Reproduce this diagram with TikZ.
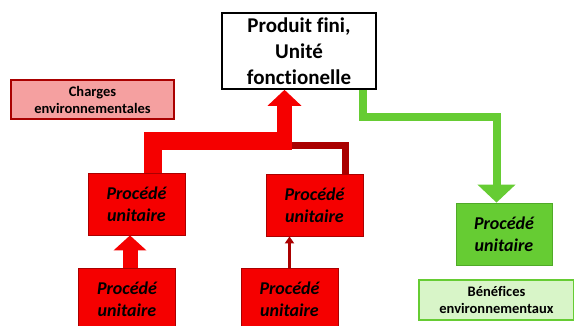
\documentclass[tikz,border=0pt]{standalone}
\usepackage{fontspec}
\setmainfont{Carlito}[Ligatures=NoCommon]
\usetikzlibrary{arrows.meta,calc}

\definecolor{rouge}{RGB}{245,0,0}
\definecolor{rougefonce}{RGB}{170,0,0}
\definecolor{rose}{RGB}{245,160,160}
\definecolor{vert}{RGB}{102,204,51}
\definecolor{vertfonce}{RGB}{80,170,40}
\definecolor{vertclair}{RGB}{216,245,200}

\begin{document}
\begin{tikzpicture}[
  x=1pt, y=-1pt,
  final/.style={draw, line width=1.6pt, fill=white, minimum width=154pt, minimum height=76pt,
    align=center, inner sep=0pt, font=\fontsize{21}{26}\selectfont\bfseries},
  procede/.style={draw=rougefonce, line width=0.8pt, fill=rouge, minimum width=97pt, minimum height=62pt,
    align=center, inner sep=0pt, font=\fontsize{18}{22}\selectfont\bfseries\itshape},
  legende/.style={line width=1.2pt, minimum height=39pt, align=center, inner sep=0pt,
    font=\fontsize{14.5}{17}\selectfont\bfseries},
  redflow/.style={draw=rouge},
  greenflow/.style={draw=vert}
]
  \clip (0,0) rectangle (574,326);

  \node[final] (produit) at (299,51) {Produit fini,\\Unité\\fonctionelle};
  \node[legende, draw=rougefonce, fill=rose, minimum width=163pt] (charges) at (92.5,99.5) {Charges\\environnementales};

  \node[procede] (pu1) at (136.5,204) {Procédé\\unitaire};
  \node[procede] (pu2) at (314.5,205) {Procédé\\unitaire};
  \node[procede] (pu3) at (127,299) {Procédé\\unitaire};
  \node[procede] (pu4) at (289.5,299) {Procédé\\unitaire};
  \node[procede, draw=vertfonce, fill=vert, minimum width=96pt] (puv) at (504,234) {Procédé\\unitaire};
  \node[legende, draw=vert, fill=vertclair, minimum width=155pt, minimum height=40pt] (benefices) at (496.5,300) {Bénéfices\\environnementaux};

  \coordinate (joint) at (284.5,150);
  \coordinate (coude) at (292,141);
  \coordinate (coudev) at (496.5,117.5);

  % flux rouges vers le produit
  \draw[draw=rougefonce, line width=7pt] ([xshift=30.5pt]pu2.north) |- (284.5,146);
  \draw[redflow, line width=15pt, -{Triangle[width=33pt,length=16pt]}] (joint) -- (joint |- produit.south);
  \draw[redflow, line width=18pt] ([xshift=16.5pt]pu1.north) |- (coude);

  \draw[redflow, line width=15pt, -{Triangle[width=32pt,length=15pt]}] ([xshift=3pt]pu3.north) -- ([xshift=3pt]pu3.north |- pu1.south);
  \draw[draw=rougefonce, line width=3.5pt, -{Triangle[width=9pt,length=7pt]}] (pu4.north) -- (pu4.north |- pu2.south);

  % flux vert
  \draw[greenflow, line width=8pt, -{Triangle[width=37pt,length=18pt]}] ([xshift=64pt]produit.south) |- (coudev) -- ([xshift=-7.5pt]puv.north);
\end{tikzpicture}
\end{document}
